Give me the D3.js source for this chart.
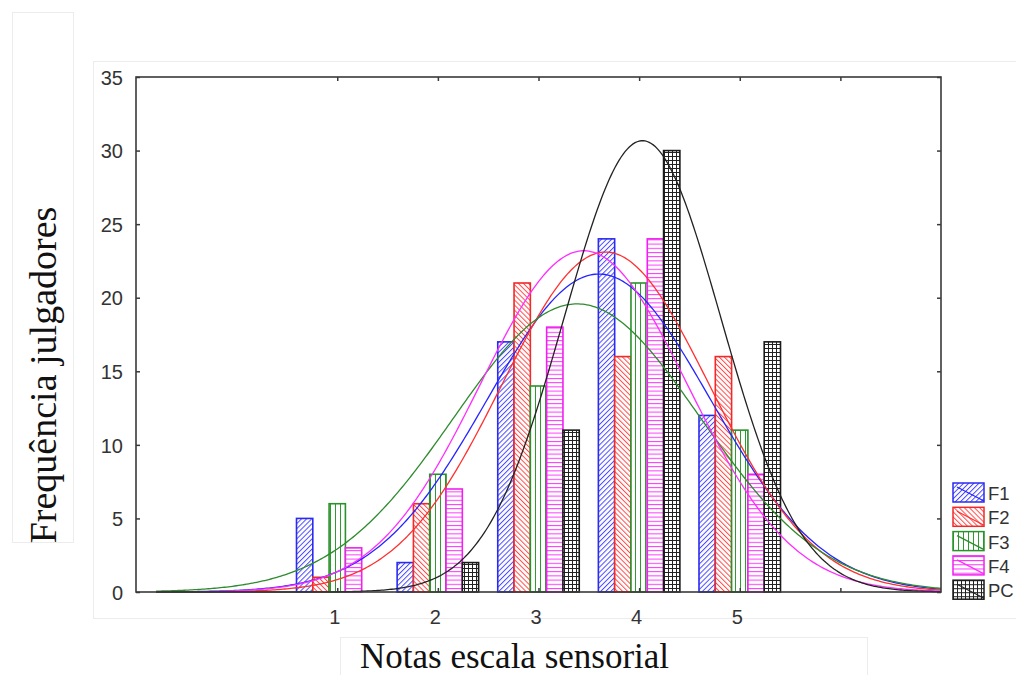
<!DOCTYPE html>
<html>
<head>
<meta charset="utf-8">
<script src="https://cdn.jsdelivr.net/npm/d3@7"></script>
<style>
  html, body { margin: 0; padding: 0; background: #fff; }
  svg { display: block; }
</style>
</head>
<body>
<svg id="chart" width="1016" height="675"></svg>
<script>
// Sensory scores (1-5) and the number of judges giving each score, per sample
const categories = [1, 2, 3, 4, 5];
const seriesNames = ["F1", "F2", "F3", "F4", "PC"];
const countsF1 = [5, 2, 17, 24, 12];
const countsF2 = [1, 6, 21, 16, 16];
const countsF3 = [6, 8, 14, 21, 11];
const countsF4 = [3, 7, 18, 24, 8];
const countsPC = [0, 2, 11, 30, 17];
const yTicks = [0, 5, 10, 15, 20, 25, 30, 35];
const xTicks = [1, 2, 3, 4, 5, 6];
const xTickLabels = ["1", "2", "3", "4", "5", ""];

const seriesCounts = [countsF1, countsF2, countsF3, countsF4, countsPC];
const colors = { F1: "#2b2bf0", F2: "#f02a2a", F3: "#2a922a", F4: "#f020f0", PC: "#1a1a1a" };
const hatchColors = { F1: "#4a4aff", F2: "#ff4a4a", F3: "#2f9a2f", F4: "#ff33ff", PC: "#222" };
const curveColors = { F1: "#2525ff", F2: "#ff3030", F3: "#2e8b2e", F4: "#ff2eff", PC: "#222" };

const svg = d3.select("#chart");
const plot = { left: 136, right: 941, top: 77, bottom: 592 };

const x = d3.scaleLinear().domain([-1, 7]).range([plot.left, plot.right]);
const y = d3.scaleLinear().domain([0, 35]).range([plot.bottom, plot.top]);

// fill patterns for each sample
const defs = svg.append("defs");
function linePattern(id, color, spacing, angle) {
  const p = defs.append("pattern")
    .attr("id", id).attr("patternUnits", "userSpaceOnUse")
    .attr("width", spacing).attr("height", spacing)
    .attr("patternTransform", `rotate(${angle})`);
  p.append("rect").attr("width", spacing).attr("height", spacing).attr("fill", "#fff");
  p.append("line").attr("x1", 0.5).attr("y1", 0).attr("x2", 0.5).attr("y2", spacing)
    .attr("stroke", color).attr("stroke-width", 1);
}
linePattern("pat-F1", hatchColors.F1, 3.6, 45);
linePattern("pat-F2", hatchColors.F2, 3.6, -45);
linePattern("pat-F3", hatchColors.F3, 5, 0);
linePattern("pat-F4", hatchColors.F4, 4.2, 90);
(function gridPattern() {
  const s = 4;
  const p = defs.append("pattern")
    .attr("id", "pat-PC").attr("patternUnits", "userSpaceOnUse")
    .attr("width", s).attr("height", s);
  p.append("rect").attr("width", s).attr("height", s).attr("fill", "#fff");
  p.append("line").attr("x1", 0.5).attr("y1", 0).attr("x2", 0.5).attr("y2", s)
    .attr("stroke", hatchColors.PC).attr("stroke-width", 1);
  p.append("line").attr("x1", 0).attr("y1", 0.5).attr("x2", s).attr("y2", 0.5)
    .attr("stroke", hatchColors.PC).attr("stroke-width", 1);
})();

// faint panel frames
const frame = svg.append("g").attr("fill", "none").attr("stroke", "#ececec").attr("stroke-width", 1);
frame.append("rect").attr("x", 12.5).attr("y", 12.5).attr("width", 61).attr("height", 530);
frame.append("rect").attr("x", 93.5).attr("y", 61.5).attr("width", 940).attr("height", 557);
frame.append("rect").attr("x", 340.5).attr("y", 637.5).attr("width", 527).attr("height", 60);

// bars
const groupWidth = 0.81;
const xSub = d3.scaleBand().domain(seriesNames)
  .range([0, x(groupWidth) - x(0)]).padding(0);

const barData = [];
seriesNames.forEach((name, si) => {
  categories.forEach((c, ci) => {
    barData.push({ series: name, category: c, value: seriesCounts[si][ci] });
  });
});

svg.append("g").selectAll("rect")
  .data(barData.filter(d => d.value > 0))
  .join("rect")
  .attr("x", d => x(d.category - groupWidth / 2) + xSub(d.series))
  .attr("y", d => y(d.value))
  .attr("width", xSub.bandwidth())
  .attr("height", d => y(0) - y(d.value))
  .attr("fill", d => `url(#pat-${d.series})`)
  .attr("stroke", d => colors[d.series])
  .attr("stroke-width", 1.6);

// fitted normal curves, scaled to total count (bin width 1)
function fitNormal(counts) {
  const n = d3.sum(counts);
  const mean = d3.sum(counts, (v, i) => v * categories[i]) / n;
  const ss = d3.sum(counts, (v, i) => v * (categories[i] - mean) ** 2);
  const sd = Math.sqrt(ss / (n - 1));
  return { n, mean, sd };
}
const curveXs = d3.range(-0.8, 7.0001, 0.02);
const line = d3.line().x(d => x(d[0])).y(d => y(d[1]));
seriesNames.forEach((name, si) => {
  const { n, mean, sd } = fitNormal(seriesCounts[si]);
  const pts = curveXs.map(v => [v, n / (sd * Math.sqrt(2 * Math.PI)) * Math.exp(-0.5 * ((v - mean) / sd) ** 2)]);
  svg.append("path")
    .datum(pts)
    .attr("d", line)
    .attr("fill", "none")
    .attr("stroke", curveColors[name])
    .attr("stroke-width", 1.3);
});

// axes
const axisColor = "#3a3a3a";
const tickFont = "Liberation Sans, Arial, sans-serif";

const yAxisL = svg.append("g").attr("transform", `translate(${plot.left},0)`)
  .call(d3.axisLeft(y).tickValues(yTicks).tickSize(-4).tickPadding(13));
const yAxisR = svg.append("g").attr("transform", `translate(${plot.right},0)`)
  .call(d3.axisRight(y).tickValues(yTicks).tickSize(-4).tickFormat(""));
const xAxisB = svg.append("g").attr("transform", `translate(0,${plot.bottom})`)
  .call(d3.axisBottom(x).tickValues(xTicks).tickSize(-4).tickPadding(18)
    .tickFormat((d, i) => xTickLabels[i]));
const xAxisT = svg.append("g").attr("transform", `translate(0,${plot.top})`)
  .call(d3.axisTop(x).tickValues(xTicks).tickSize(-4).tickFormat(""));

[yAxisL, yAxisR, xAxisB, xAxisT].forEach(g => {
  g.select(".domain").remove();
  g.selectAll(".tick line").attr("stroke", axisColor).attr("stroke-width", 1.5);
  g.selectAll(".tick text").attr("fill", "#333").attr("font-family", tickFont).attr("font-size", 20);
});
yAxisL.selectAll(".tick text").attr("dy", "0.36em");
xAxisB.selectAll(".tick text").attr("dx", -3);

svg.append("rect")
  .attr("x", plot.left).attr("y", plot.top)
  .attr("width", plot.right - plot.left).attr("height", plot.bottom - plot.top)
  .attr("fill", "none").attr("stroke", axisColor).attr("stroke-width", 1.6);

// axis titles
const serif = "Liberation Serif, 'Times New Roman', serif";
svg.append("text")
  .attr("transform", "translate(56,375) rotate(-90)")
  .attr("text-anchor", "middle")
  .attr("font-family", serif).attr("font-size", 38).attr("fill", "#111")
  .text("Frequência julgadores");
svg.append("text")
  .attr("x", 360).attr("y", 668)
  .attr("font-family", serif).attr("font-size", 35).attr("fill", "#111")
  .text("Notas escala sensorial");

// legend
const legend = svg.append("g").attr("transform", "translate(953,483)");
const legendRow = legend.selectAll("g").data(seriesNames).join("g")
  .attr("transform", (d, i) => `translate(0,${i * 24.3})`);
legendRow.append("rect")
  .attr("width", 31).attr("height", 19)
  .attr("fill", d => `url(#pat-${d})`)
  .attr("stroke", d => colors[d]).attr("stroke-width", 1.5);
legendRow.append("line")
  .attr("x1", 4).attr("y1", 4).attr("x2", 31).attr("y2", 18)
  .attr("stroke", d => curveColors[d]).attr("stroke-width", 1.2);
legendRow.append("text")
  .attr("x", 35).attr("y", 17)
  .attr("font-family", tickFont).attr("font-size", 18.5).attr("fill", "#333")
  .text(d => d);
</script>
</body>
</html>
